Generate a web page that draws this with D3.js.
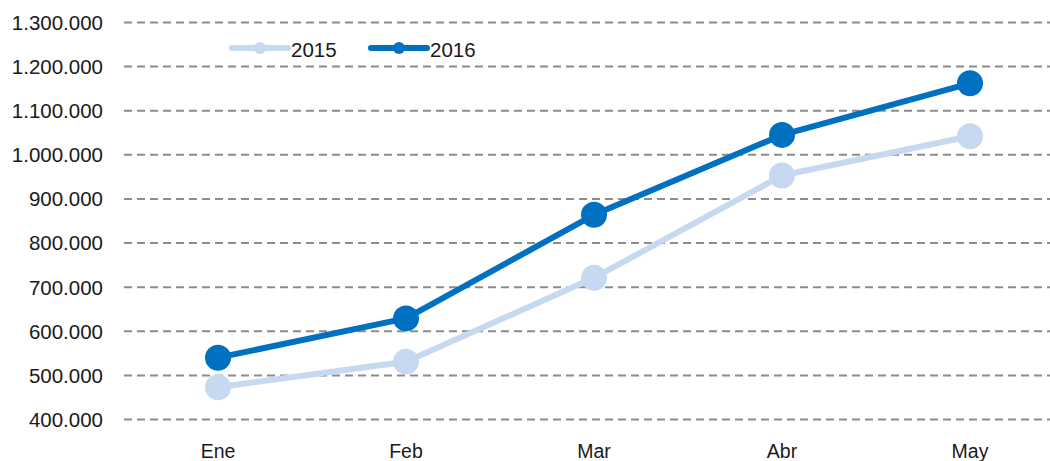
<!DOCTYPE html>
<html>
<head>
<meta charset="utf-8">
<script src="https://cdn.jsdelivr.net/npm/d3@7"></script>
<style>
  html, body { margin: 0; padding: 0; background: #fff; }
  svg text { font-family: "Liberation Sans", Arial, sans-serif; fill: #1a1a1a; }
</style>
</head>
<body>
<div id="chart"></div>
<script>
const months = ['Ene', 'Feb', 'Mar', 'Abr', 'May'];
const values2015 = [472000, 530000, 720000, 952000, 1041000];
const values2016 = [539000, 628000, 863000, 1044000, 1161000];
const yTicks = [400000, 500000, 600000, 700000, 800000, 900000, 1000000, 1100000, 1200000, 1300000];
const seriesNames = ['2015', '2016'];

const w_svg = 1050, h_svg = 461;
const colors = {'2015': '#c6d9f0', '2016': '#0070c0'};

const svg = d3.select('#chart').append('svg')
	.attr('width', w_svg)
	.attr('height', h_svg);

const scaleX = d3.scaleBand().domain(months).range([124, 1064]);
const scaleY = d3.scaleLinear().domain([400000, 1300000]).range([419, 22]);

const fmt = d => d3.format(',')(d).replace(/,/g, '.');

// grid + y labels
const axisY = d3.axisLeft(scaleY)
	.tickValues(yTicks)
	.tickSize(-940)
	.tickFormat(fmt);
const gy = svg.append('g')
	.attr('transform', 'translate(124,0)')
	.call(axisY);
gy.select('.domain').remove();
gy.selectAll('.tick line')
	.attr('stroke', '#8c8c8c')
	.attr('stroke-width', 2)
	.attr('stroke-dasharray', '8,5');
gy.selectAll('.tick text')
	.attr('x', -21)
	.attr('font-size', 20.5)
	.attr('dy', '0.36em')
	.style('fill', '#1a1a1a');

// x labels
const axisX = d3.axisBottom(scaleX).tickSize(0);
const gx = svg.append('g')
	.attr('transform', 'translate(0,440)')
	.call(axisX);
gx.select('.domain').remove();
gx.selectAll('.tick text')
	.attr('y', 4)
	.attr('dy', '0.71em')
	.attr('font-size', 19.5)
	.style('fill', '#1a1a1a');

const series = [
	{name: '2015', values: values2015},
	{name: '2016', values: values2016}
];

const line = d3.line()
	.x((d, i) => scaleX(months[i]) + scaleX.bandwidth() / 2)
	.y(d => scaleY(d));

series.forEach(s => {
	svg.append('path')
		.datum(s.values)
		.attr('fill', 'none')
		.attr('stroke', colors[s.name])
		.attr('stroke-width', 6)
		.attr('stroke-linejoin', 'round')
		.attr('d', line);
	svg.selectAll('.dot-' + s.name)
		.data(s.values)
		.enter()
		.append('circle')
		.attr('class', 'dot-' + s.name)
		.attr('cx', (d, i) => scaleX(months[i]) + scaleX.bandwidth() / 2)
		.attr('cy', d => scaleY(d))
		.attr('r', 13)
		.attr('fill', colors[s.name]);
});

// legend
const legend = svg.append('g').attr('transform', 'translate(232,48)');
seriesNames.forEach((name, i) => {
	const g = legend.append('g').attr('transform', `translate(${i * 139},0)`);
	g.append('line')
		.attr('x1', 0).attr('x2', 56)
		.attr('y1', 0).attr('y2', 0)
		.attr('stroke', colors[name])
		.attr('stroke-width', 6)
		.attr('stroke-linecap', 'round');
	g.append('circle')
		.attr('cx', 28).attr('cy', 0)
		.attr('r', 6)
		.attr('fill', colors[name]);
	g.append('text')
		.attr('x', 59)
		.attr('y', 9)
		.attr('font-size', 20.5)
		.text(name);
});
</script>
</body>
</html>
